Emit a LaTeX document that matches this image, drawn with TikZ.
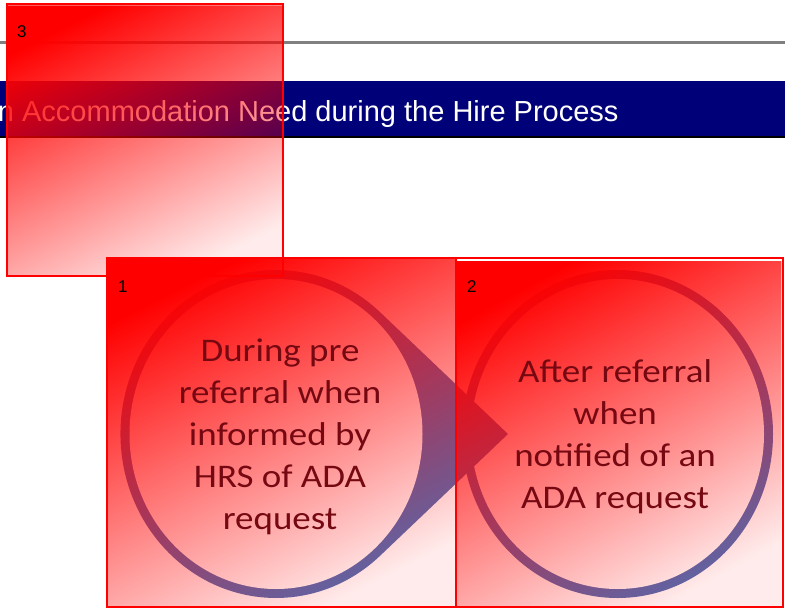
\documentclass[tikz,border=0pt]{standalone}
\usepackage{fontspec}
\setmainfont{Liberation Sans}
\newfontfamily\calfont[FakeStretch=1.12]{Carlito}
\usetikzlibrary{fadings}
\definecolor{bannernavy}{RGB}{0,0,120}
\definecolor{ringblue}{RGB}{80,110,180}
\definecolor{linegray}{RGB}{128,128,128}
\definecolor{textmaroon}{RGB}{118,8,18}
\tikzfading[name=boxfade, top color=transparent!0, bottom color=transparent!92]
\begin{document}
\begin{tikzpicture}[x=1pt,y=-1pt,
  overlaybox/.style={fill=red, path fading=boxfade, fading angle=27},
  boxframe/.style={draw=red, line width=2pt},
  numlabel/.style={font=\fontsize{17}{17}\selectfont, anchor=base west, inner sep=0pt, text=black},
  circtext/.style={font=\calfont\fontsize{33}{42}\selectfont, align=center, text=textmaroon, inner sep=0pt},
  ringfill/.style={fill=ringblue},
]
\useasboundingbox (0,0) rectangle (785,608);
\fill[white] (0,0) rectangle (785,608);
% rule and banner
\draw[linegray, line width=3pt] (0,42) -- (785,42);
\fill[bannernavy] (0,81) rectangle (785,137);
\draw[black, line width=1.5pt] (0,137) -- (785,137);
\node[anchor=base west, inner sep=0pt, text=white, font=\fontsize{29}{29}\selectfont] (title) at (-2.2,121) {n Accommodation Need during the Hire Process};
% circle 2
\fill[ringfill] (617.5,434) ellipse[x radius=155.5pt, y radius=164pt];
\fill[white] (617.5,434) ellipse[x radius=146.5pt, y radius=155pt];
% teardrop 1
\fill[ringfill] (508,434) -- (380.2,312.3) arc[start angle=47.9, end angle=312.1, x radius=155.5pt, y radius=164pt] -- cycle;
\fill[white] (276,434) ellipse[x radius=146.5pt, y radius=155pt];
% overlay boxes
\fill[overlaybox] (7,4) rectangle (283,276);
\draw[boxframe] (7,4) rectangle (283,276);
\fill[overlaybox] (107,258) rectangle (456,607);
\draw[boxframe] (107,258) rectangle (456,607);
\fill[overlaybox] (456,258) rectangle (783,607);
\draw[boxframe] (456,258) rectangle (783,607);
% texts
\node[circtext] (t1) at (280,437) {During pre\\referral when\\informed by\\HRS of ADA\\request};
\node[circtext] (t2) at (615,437) {After referral\\when\\notified of an\\ADA request};
\node[numlabel] (n3) at (17,37) {3};
\node[numlabel] (n1) at (118,292) {1};
\node[numlabel] (n2) at (467,292) {2};
\end{tikzpicture}
\end{document}
